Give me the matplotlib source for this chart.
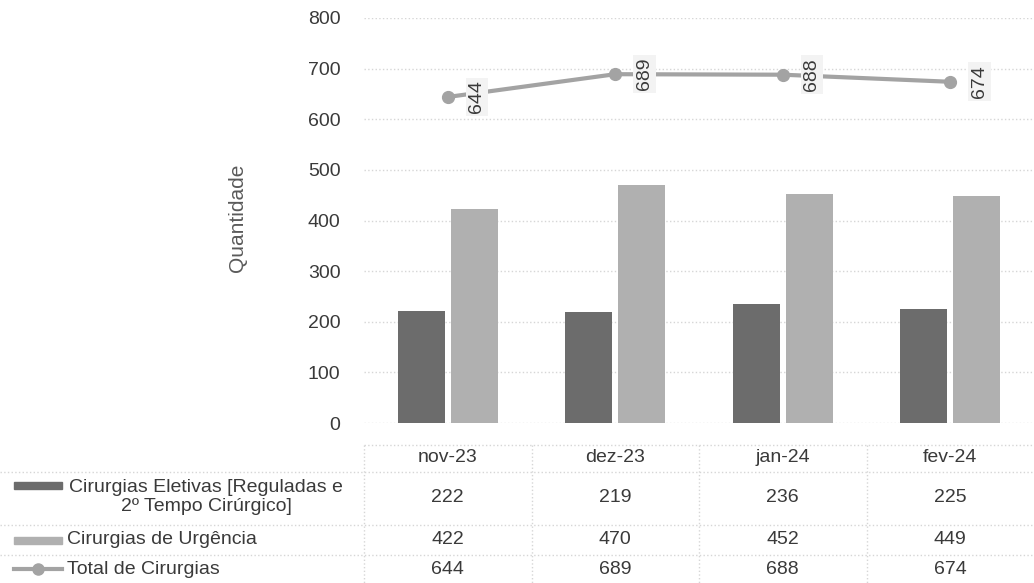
import numpy as np
import matplotlib.pyplot as plt
from matplotlib.patches import Rectangle

meses = ["nov-23", "dez-23", "jan-24", "fev-24"]
eletivas = [222, 219, 236, 225]
urgencia = [422, 470, 452, 449]
total = [644, 689, 688, 674]
nomes = ["Cirurgias Eletivas [Reguladas e\n2º Tempo Cirúrgico]",
         "Cirurgias de Urgência", "Total de Cirurgias"]

cor_elet = "#6c6c6c"
cor_urg = "#b0b0b0"
cor_tot = "#a3a3a3"
cor_txt = "#3a3a3a"
cor_grid = "#d6d6d6"
fs = 14

plt.rcParams["font.family"] = ["Liberation Sans", "DejaVu Sans"]

W, H = 1034, 583
fig = plt.figure(figsize=(W / 100, H / 100), dpi=100)
x0, x1 = 364, 1034  # plot area in pixels
larg = (x1 - x0) / len(meses)

ax = fig.add_axes([x0 / W, 1 - 423 / H, (x1 - x0) / W, (423 - 18) / H])
x = np.arange(len(meses))
ax.bar(x - 0.158, eletivas, 0.28, color=cor_elet, zorder=2)
ax.bar(x + 0.158, urgencia, 0.28, color=cor_urg, zorder=2)
ax.plot(x, total, color=cor_tot, lw=3, marker="o", ms=8.5, zorder=3)
for i, v in enumerate(total):
    ax.annotate(str(v), (x[i], v), xytext=(21, 0), textcoords="offset points",
                rotation=90, ha="center", va="center", fontsize=fs, color=cor_txt,
                bbox=dict(boxstyle="square,pad=0.15", fc="#f3f3f3", ec="none"), zorder=4)
ax.set_xlim(-0.5, len(meses) - 0.5)
ax.set_ylim(0, 800)
ax.set_yticks(range(0, 801, 100))
ax.set_xticks([])
ax.tick_params(length=0, labelsize=fs, labelcolor=cor_txt, pad=17)
ax.yaxis.grid(True, color=cor_grid, ls=":", lw=1)
ax.set_axisbelow(True)
for s in ax.spines.values():
    s.set_visible(False)
ax.set_ylabel("Quantidade", fontsize=15, color="#5a5a5a")
ax.yaxis.set_label_coords((247 - x0) / (x1 - x0), (423 - 218) / (423 - 18))

# tabela de dados
tab = fig.add_axes([0, 0, 1, (H - 437) / H])
esq = -0.5 - x0 / larg
tab.set_xlim(esq, len(meses) - 0.5)
tab.set_ylim(583, 437)
tab.axis("off")

def px(p):
    return -0.5 + (p - x0) / larg

linhas = [445, 472, 525, 555]
centros = [458, 497, 540, 569]
kw = dict(color=cor_grid, lw=1, ls=":")
tab.plot([-0.5, len(meses) - 0.5], [linhas[0]] * 2, **kw)
for yl in linhas[1:]:
    tab.plot([esq, len(meses) - 0.5], [yl] * 2, **kw)
for xv in np.arange(len(meses)) - 0.5:
    tab.plot([xv, xv], [linhas[0], 583], **kw)

serie = [eletivas, urgencia, total]
for i, m in enumerate(meses):
    tab.text(i, centros[0], m, ha="center", va="center", fontsize=fs, color=cor_txt)
    for j, s in enumerate(serie):
        tab.text(i, centros[j + 1], str(s[i]), ha="center", va="center",
                 fontsize=fs, color=cor_txt)

# legenda
k0, k1 = px(14), px(62)
tab.add_patch(Rectangle((k0, 482), k1 - k0, 7, color=cor_elet))
tab.add_patch(Rectangle((k0, 537), k1 - k0, 7, color=cor_urg))
tab.plot([k0, k1], [569, 569], color=cor_tot, lw=3)
tab.plot([(k0 + k1) / 2], [569], marker="o", ms=8, color=cor_tot)
tab.text(px(206), 497, nomes[0], ha="center", va="center", fontsize=fs,
         color=cor_txt, multialignment="center", linespacing=1.15)
tab.text(px(67), 540, nomes[1], ha="left", va="center", fontsize=fs, color=cor_txt)
tab.text(px(67), 569, nomes[2], ha="left", va="center", fontsize=fs, color=cor_txt)

fig.savefig("out.png", dpi=100)
